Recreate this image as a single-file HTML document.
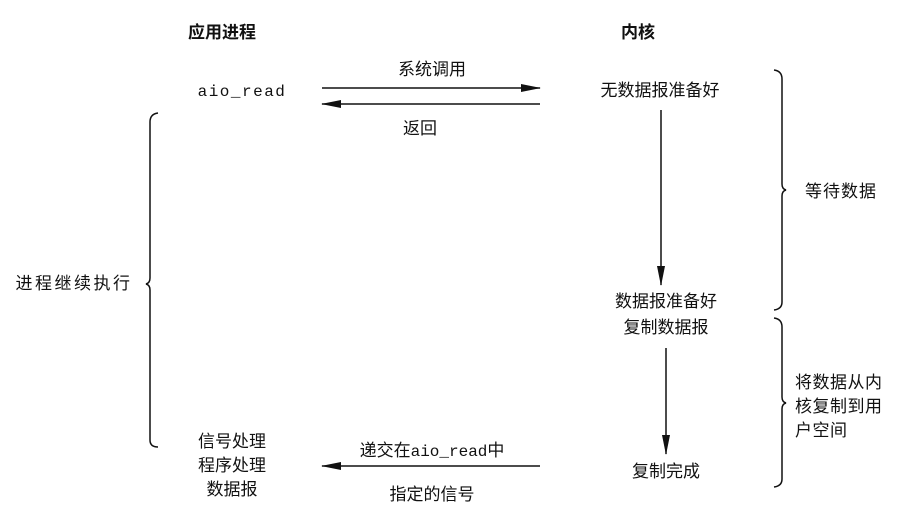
<!DOCTYPE html>
<html><head><meta charset="utf-8"><style>
body{margin:0;background:#fff}
svg text{font-family:"Liberation Sans","Noto Sans CJK SC",sans-serif;font-size:17px;fill:#111}
.m{font-family:"Liberation Mono",monospace;font-size:16px}
.b{font-weight:bold}
</style></head><body>
<svg width="923" height="522" viewBox="0 0 923 522" xmlns="http://www.w3.org/2000/svg">
<defs><marker id="v" markerWidth="20" markerHeight="8" refX="19" refY="4" orient="auto" markerUnits="userSpaceOnUse"><path d="M0,0 L20,4 L0,8 z" fill="#111"/></marker></defs>
<text x="222" y="38" text-anchor="middle" class="b">应用进程</text>
<text x="638" y="38" text-anchor="middle" class="b">内核</text>
<text x="242" y="96" text-anchor="middle" class="m" letter-spacing="1.5">aio_read</text>
<text x="432" y="75" text-anchor="middle">系统调用</text>
<line x1="322" y1="88" x2="540" y2="88" stroke="#111" stroke-width="1.5" marker-end="url(#v)"/>
<line x1="540" y1="104" x2="322" y2="104" stroke="#111" stroke-width="1.5" marker-end="url(#v)"/>
<text x="420" y="134" text-anchor="middle">返回</text>
<text x="660" y="96" text-anchor="middle">无数据报准备好</text>
<line x1="661" y1="110" x2="661" y2="285" stroke="#111" stroke-width="1.5" marker-end="url(#v)"/>
<text x="666" y="307" text-anchor="middle">数据报准备好</text>
<text x="666" y="333" text-anchor="middle">复制数据报</text>
<line x1="666" y1="348" x2="666" y2="454" stroke="#111" stroke-width="1.5" marker-end="url(#v)"/>
<text x="666" y="477" text-anchor="middle">复制完成</text>
<text x="432" y="456" text-anchor="middle">递交在<tspan class="m">aio_read</tspan>中</text>
<line x1="540" y1="466" x2="322" y2="466" stroke="#111" stroke-width="1.5" marker-end="url(#v)"/>
<text x="432" y="500" text-anchor="middle">指定的信号</text>
<text x="232" y="447" text-anchor="middle">信号处理</text>
<text x="232" y="471" text-anchor="middle">程序处理</text>
<text x="232" y="495" text-anchor="middle">数据报</text>
<text x="74" y="289" text-anchor="middle" letter-spacing="2.5">进程继续执行</text>
<path d="M158,113 Q150,114 150,122 L150,278 Q150,283 146,284 Q150,285 150,290 L150,440 Q150,447 158,447" fill="none" stroke="#111" stroke-width="1.5"/>
<path d="M774,70 Q782,71 782,79 L782,184 Q782,189 786,190 Q782,191 782,196 L782,302 Q782,309 774,310" fill="none" stroke="#111" stroke-width="1.5"/>
<text x="805" y="197" letter-spacing="1">等待数据</text>
<path d="M774,318 Q782,319 782,327 L782,397 Q782,402 786,403 Q782,404 782,409 L782,479 Q782,486 774,487" fill="none" stroke="#111" stroke-width="1.5"/>
<text x="795" y="388" letter-spacing="0.5">将数据从内</text>
<text x="795" y="412" letter-spacing="0.5">核复制到用</text>
<text x="795" y="436" letter-spacing="0.5">户空间</text>
</svg>
</body></html>
